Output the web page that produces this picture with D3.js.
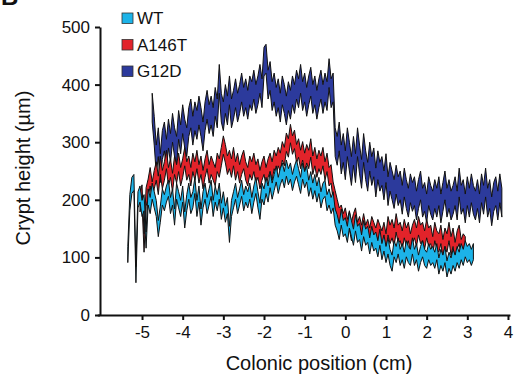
<!DOCTYPE html>
<html>
<head>
<meta charset="utf-8">
<script src="https://cdn.jsdelivr.net/npm/d3@7"></script>
<style>
  html, body { margin: 0; padding: 0; background: #fff; }
  svg { display: block; font-family: "Liberation Sans", Arial, Helvetica, sans-serif; }
</style>
</head>
<body>
<svg id="chart" width="515" height="375"></svg>
<script>
// ---- Data (crypt height in µm, sampled every 0.05 cm of colonic position) ----
const seriesNames = ["WT", "A146T", "G12D"];
const seriesColors = ["#1cb3e8", "#e2232a", "#2c3a9c"];
const xStep = 0.05;

const wtStart = -5.35;
const wtValues = [
  105, 195, 225, 230, 70, 200, 210, 185, 195, 130,
  205, 190, 215, 200, 185, 150, 175, 205, 195, 210,
  220, 190, 205, 170, 215, 200, 185, 210, 165, 195,
  215, 190, 200, 225, 185, 210, 170, 200, 215, 190,
  205, 220, 185, 210, 195, 215, 180, 200, 175, 190,
  140, 185, 200, 215, 190, 205, 220, 195, 210, 200,
  215, 190, 210, 225, 200, 180, 215, 205, 225, 210,
  235, 215, 230, 245, 225, 240, 250, 235, 255, 240,
  250, 230, 245, 255, 240, 225, 250, 235, 245, 220,
  235, 215, 230, 210, 225, 200, 215, 220, 195, 205,
  190, 200, 170, 160, 145, 170, 150, 155, 140, 165,
  150, 135, 160, 140, 145, 125, 150, 135, 140, 120,
  140, 125, 130, 115, 135, 110, 125, 105, 120, 100,
  90, 115, 105, 120, 100, 110, 95, 115, 105, 100,
  120, 100, 110, 90, 105, 115, 100, 95, 110, 100,
  105, 95, 110, 85, 100, 90, 105, 80, 95, 85,
  100, 90, 105, 95, 110, 100, 115, 105, 110, 100,
  110];
const wtSpread = 14;

const a146tStart = -5.05;
const a146tValues = [
  195, 210, 125, 205, 220, 240, 215, 235, 250, 225,
  260, 235, 250, 270, 240, 255, 230, 260, 245, 265,
  240, 255, 275, 250, 260, 240, 265, 250, 270, 245,
  260, 235, 255, 270, 245, 260, 250, 240, 265, 255,
  275, 295, 280, 260, 270, 255, 275, 250, 265, 245,
  260, 270, 250, 240, 260, 250, 265, 245, 255, 235,
  250, 260, 240, 255, 265, 250, 270, 260, 275, 265,
  285, 275, 300, 290, 315, 295, 305, 280, 290, 270,
  285, 265, 280, 270, 290, 260, 275, 255, 270, 260,
  275, 250, 265, 240, 245, 215, 200, 185, 170, 175,
  160, 170, 150, 165, 145, 160, 170, 145, 155, 140,
  160, 140, 150, 135, 155, 145, 135, 150, 140, 130,
  145, 125, 155, 140, 150, 135, 160, 140, 145, 130,
  150, 135, 145, 125, 140, 150, 135, 155, 140, 145,
  130, 150, 135, 140, 120, 145, 130, 125, 140, 115,
  135, 125, 145, 120, 135, 110, 130, 140, 115, 125,
  120];
const a146tSpread = 16;

const g12dStart = -4.75;
const g12dValues = [
  360, 320, 270, 300, 255, 295, 310, 280, 315, 290,
  325, 300, 285, 330, 305, 340, 315, 300, 335, 350,
  320, 345, 330, 355, 335, 310, 345, 365, 340, 355,
  335, 370, 350, 410, 360, 345, 375, 355, 390, 350,
  365, 385, 360, 375, 395, 370, 385, 365, 390, 380,
  400, 375, 390, 410, 385, 440, 445, 400, 415, 380,
  395, 370, 385, 360, 390, 375, 355, 380, 365, 390,
  375, 400, 385, 410, 380, 395, 370, 390, 405, 375,
  390, 365, 385, 400, 375, 395, 380, 420, 385, 395,
  300, 285, 310, 270, 290, 260, 300, 275, 250, 285,
  255, 300, 270, 245, 290, 260, 240, 275, 250, 265,
  230, 260, 240, 250, 225, 255, 215, 240, 225, 210,
  235, 215, 225, 200, 230, 210, 195, 220, 205, 215,
  190, 210, 225, 195, 205, 185, 215, 200, 190, 210,
  195, 215, 185, 205, 225, 195, 210, 190, 200, 215,
  190, 230, 200, 210, 185, 215, 195, 220, 200, 190,
  210, 185, 220, 200, 230, 195, 210, 180, 205, 215,
  190, 220, 195];
const g12dSpread = 25;

const xTicks = [-5, -4, -3, -2, -1, 0, 1, 2, 3, 4];
const yTicks = [0, 100, 200, 300, 400, 500];
const xLabel = "Colonic position (cm)";
const yLabel = "Crypt height (µm)";

// ---- Build series ----
function build(start, values, spread) {
  return values.map((v, i) => ({ x: start + i * xStep, v: v, s: spread }));
}
const series = [
  { name: "G12D", color: seriesColors[2], data: build(g12dStart, g12dValues, g12dSpread) },
  { name: "A146T", color: seriesColors[1], data: build(a146tStart, a146tValues, a146tSpread) },
  { name: "WT", color: seriesColors[0], data: build(wtStart, wtValues, wtSpread) }
];

const svg = d3.select("#chart");
const x = d3.scaleLinear().domain([-6.1, 4.05]).range([97.3, 510]);
const y = d3.scaleLinear().domain([0, 500]).range([315, 27]);

// Panel letter (cropped at the top edge, as in the source figure)
svg.append("text").attr("x", 1).attr("y", 5)
  .attr("font-size", 24).attr("font-weight", "bold").attr("fill", "#111").text("B");

// Bands
const area = d3.area()
  .x(d => x(d.x))
  .y0(d => y(d.v - d.s))
  .y1(d => y(d.v + d.s));

svg.append("g").selectAll("path").data(series).join("path")
  .attr("d", d => area(d.data))
  .attr("fill", d => d.color)
  .attr("stroke", "#111")
  .attr("stroke-width", 1)
  .attr("stroke-linejoin", "round");

// Axes
const xAxis = svg.append("g").attr("transform", "translate(0,315)")
  .call(d3.axisBottom(x).tickValues(xTicks).tickFormat(d3.format("d")).tickSize(5).tickSizeOuter(0).tickPadding(6));
const yAxis = svg.append("g").attr("transform", "translate(100,0)")
  .call(d3.axisLeft(y).tickValues(yTicks).tickSize(5).tickSizeOuter(0).tickPadding(5));

[xAxis, yAxis].forEach(g => {
  g.select(".domain").attr("stroke", "#111").attr("stroke-width", 2);
  g.selectAll(".tick line").attr("stroke", "#111").attr("stroke-width", 2);
  g.selectAll(".tick text").attr("fill", "#111").attr("font-size", 17)
    .attr("font-family", "'Liberation Sans', Arial, sans-serif");
});
xAxis.selectAll(".tick text").text(d => d < 0 ? "-" + Math.abs(d) : d);

// Axis titles
svg.append("text").attr("x", 319).attr("y", 370)
  .attr("text-anchor", "middle").attr("font-size", 20).attr("fill", "#111").text(xLabel);
svg.append("text").attr("transform", "translate(30,168) rotate(-90)")
  .attr("text-anchor", "middle").attr("font-size", 20).attr("fill", "#111").text(yLabel);

// Legend
const legendNames = ["WT", "A146T", "G12D"];
const legend = svg.append("g").attr("transform", "translate(122,13)");
legendNames.forEach((n, i) => {
  const g = legend.append("g").attr("transform", `translate(0,${i * 26.5})`);
  g.append("rect").attr("width", 11).attr("height", 10.5)
    .attr("fill", seriesColors[seriesNames.indexOf(n)]).attr("stroke", "#333").attr("stroke-width", 0.8);
  g.append("text").attr("x", 15).attr("y", 11).attr("font-size", 17).attr("fill", "#111").text(n);
});
</script>
</body>
</html>
